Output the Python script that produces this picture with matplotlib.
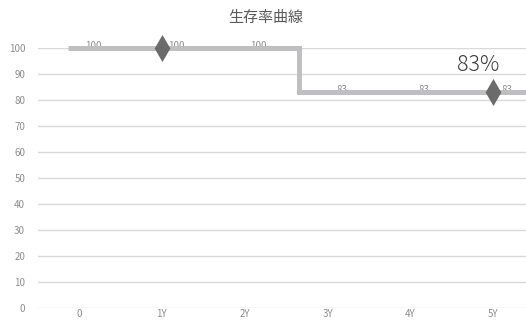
import matplotlib
matplotlib.use("Agg")
import matplotlib.pyplot as plt
from matplotlib.path import Path

plt.rcParams['font.family'] = ['Noto Sans CJK JP', 'DejaVu Sans']

# survival curve data
years = ['0', '1Y', '2Y', '3Y', '4Y', '5Y']
survival = [100, 100, 100, 83, 83, 83]
marked_points = [1, 5]          # index of years that get a diamond
drop_at = 2.66                  # where the step goes down
curve_start, curve_end = -0.13, 5.6
final_label = '83%'

line_color = '#bfbfc1'
marker_color = '#6b6b6b'
grid_color = '#d9d9d9'
text_color = '#8c8c8c'

fig = plt.figure(figsize=(5.26, 3.22), dpi=100)
# plot area runs past the right edge of the image
ax = fig.add_axes([37.6 / 526, 14 / 322, 497 / 526, 260 / 322])

ax.set_xlim(-0.5, 5.5)
ax.set_ylim(0, 100)
ax.set_yticks(range(0, 101, 10))
ax.set_xticks(range(len(years)))
ax.set_xticklabels(years)
ax.grid(axis='y', color=grid_color, linewidth=1)
ax.set_axisbelow(True)
for s in ax.spines.values():
    s.set_visible(False)
ax.tick_params(length=0, colors=text_color, labelsize=7)
ax.tick_params(axis='y', pad=9)
ax.tick_params(axis='x', pad=1)

# data labels sit under the curve
for i, v in enumerate(survival):
    ax.annotate(str(v), (i, v), xytext=(14, 2), textcoords='offset pixels',
                ha='center', va='center', fontsize=7, color=text_color, zorder=2)

# step curve
before = survival[:3]
after = survival[3:]
sx = [curve_start, drop_at, drop_at, curve_end]
sy = [before[0], before[-1], after[0], after[-1]]
ax.plot(sx, sy, color=line_color, linewidth=3.6, solid_capstyle='butt',
        solid_joinstyle='miter', zorder=3, clip_on=False)

diamond = Path([(0, 1), (0.58, 0), (0, -1), (-0.58, 0), (0, 1)],
               [Path.MOVETO, Path.LINETO, Path.LINETO, Path.LINETO, Path.CLOSEPOLY])
ax.plot(marked_points, [survival[i] for i in marked_points], linestyle='none',
        marker=diamond, markersize=19.5, color=marker_color, markeredgewidth=0,
        zorder=4, clip_on=False)

ax.annotate(final_label, (5, survival[5]), xytext=(-15, 27), textcoords='offset pixels',
            ha='center', va='center', fontsize=15.5, fontweight='light',
            color='#3a3a3a', zorder=5)

fig.text(266 / 526, 1 - 18 / 322, '生存率曲線', ha='center', va='center',
         fontsize=10.8, color='#595959')

fig.savefig('out.png', dpi=100)
